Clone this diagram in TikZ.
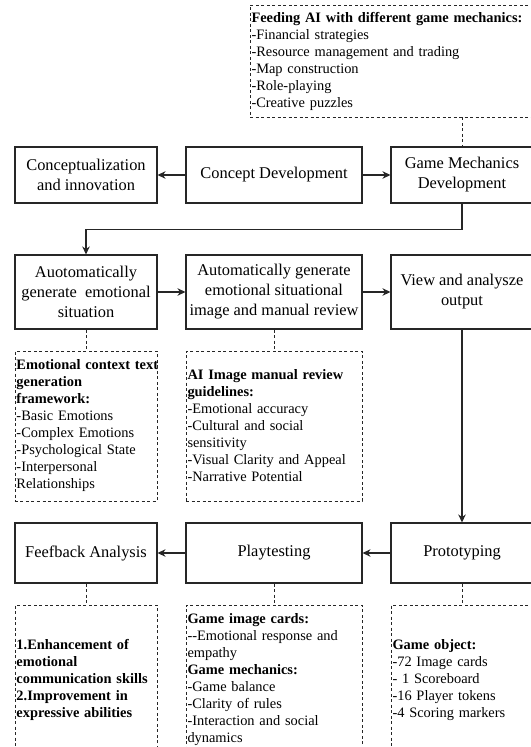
\documentclass[tikz,border=0pt]{standalone}
\usepackage{fontspec}
\setmainfont{Liberation Serif}
\usepackage{tikz}
\usetikzlibrary{arrows.meta}
\newcommand{\boxfont}{\fontsize{16.4bp}{20bp}\selectfont}
\newcommand{\notefont}{\fontsize{14.4bp}{17bp}\selectfont}
\tikzset{
	stepbox/.style 2 args={draw=black!85,line width=1.1bp,minimum width=#1,minimum height=#2,inner sep=1bp,align=center,font=\boxfont},
	notebox/.style n args={3}{draw=black!85,line width=0.9bp,dash pattern=on 3bp off 2.5bp,minimum width=#1,minimum height=#2,text width=#3,inner xsep=1.5bp,inner ysep=1bp,align=left,font=\notefont},
	arr/.style={draw=black!85,line width=1.1bp,-{Stealth[length=8bp,width=7.5bp]}},
	dlink/.style={draw=black!85,line width=0.9bp,dash pattern=on 3bp off 2.5bp}
}

\begin{document}
\begin{tikzpicture}[x=1bp,y=-1bp]
					\useasboundingbox (0,0) rectangle (531,747);
					\clip (0,0) rectangle (531,747);

					\node [notebox={424bp}{112bp}{421bp}] (feed) at (462,61) {\textbf{Feeding AI with different game mechanics:}\\-Financial strategies\\-Resource management and trading\\-Map construction\\-Role-playing\\-Creative puzzles};

					\node [stepbox={142bp}{56bp}] (cin) at (86,175) {Conceptualization\\and innovation};
					\node [stepbox={176bp}{56bp}] (cd) at (274,175) {Concept Development};
					\node [stepbox={142bp}{56bp}] (gmd) at (462,175) {Game Mechanics\\Development};

					\node [stepbox={142bp}{74bp}] (aes) at (86,292) {Auotomatically\\generate~ emotional\\situation};
					\node [stepbox={176bp}{74bp}] (aei) at (274,292) {Automatically generate\\emotional situational\\image and manual review};
					\node [stepbox={142bp}{74bp}] (vao) at (462,292) {View and analysze\\output};

					\node [notebox={142bp}{150bp}{139bp}] (ectx) at (86,426) {\mbox{\textbf{Emotional context text}}\\\textbf{generation}\\\textbf{framework:}\\-Basic Emotions\\-Complex Emotions\\-Psychological State\\-Interpersonal\\Relationships};
					\node [notebox={176bp}{150bp}{173bp}] (revg) at (274,426) {\textbf{AI Image manual review}\\\textbf{guidelines:}\\-Emotional accuracy\\-Cultural and social\\sensitivity\\-Visual Clarity and Appeal\\-Narrative Potential};

					\node [stepbox={142bp}{60bp}] (fba) at (86,553) {Feefback Analysis};
					\node [stepbox={176bp}{60bp}] (play) at (274,553) {Playtesting};
					\node [stepbox={142bp}{60bp}] (proto) at (462,553) {Prototyping};

					\node [notebox={142bp}{150bp}{139bp}] (gain) at (86,680) {\textbf{1.Enhancement of}\\\textbf{emotional}\\\textbf{communication skills}\\\textbf{2.Improvement in}\\\textbf{expressive abilities}};
					\node [notebox={176bp}{150bp}{173bp}] (cards) at (274,680) {\textbf{Game image cards:}\\-{}-Emotional response and\\empathy\\\textbf{Game mechanics:}\\-Game balance\\-Clarity of rules\\-Interaction and social\\dynamics};
					\node [notebox={142bp}{150bp}{139bp}] (gobj) at (462,680) {\textbf{Game object:}\\-72 Image cards\\- 1 Scoreboard\\-16 Player tokens\\-4 Scoring markers};

					\draw [dlink] (feed) -- (gmd);
					\draw [arr] (cd) -- (cin);
					\draw [arr] (cd) -- (gmd);
					\draw [arr] (gmd.south) -- ++(0,26) -| (aes.north);
					\draw [arr] (aes) -- (aei);
					\draw [arr] (aei) -- (vao);
					\draw [dlink] (aes) -- (ectx);
					\draw [dlink] (aei) -- (revg);
					\draw [arr] (vao) -- (proto);
					\draw [arr] (proto) -- (play);
					\draw [arr] (play) -- (fba);
					\draw [dlink] (fba) -- (gain);
					\draw [dlink] (play) -- (cards);
					\draw [dlink] (proto) -- (gobj);
				\end{tikzpicture}
\end{document}
